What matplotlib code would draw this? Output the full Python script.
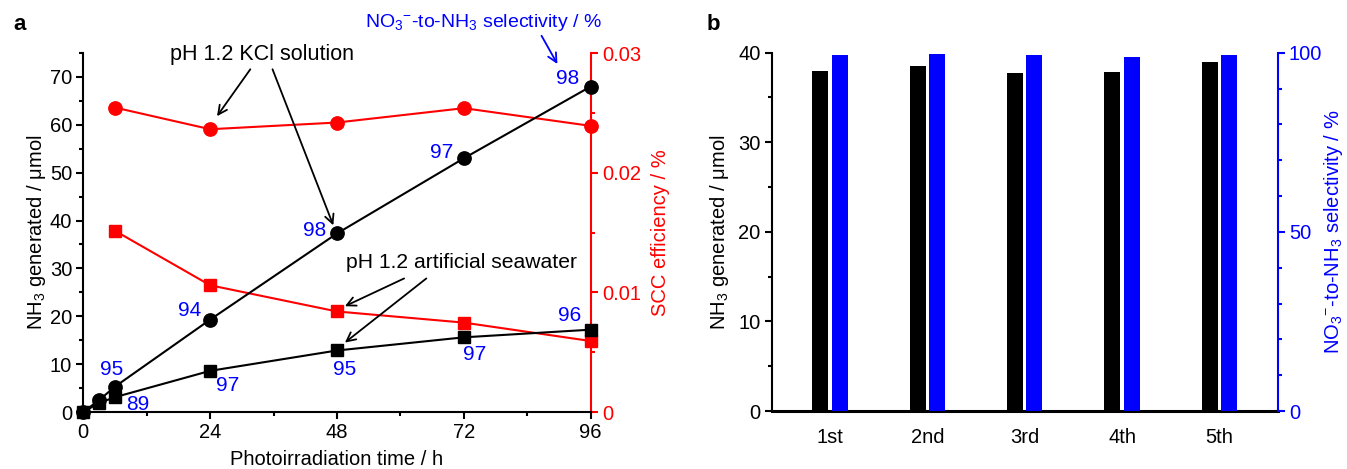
import matplotlib.pyplot as plt
from matplotlib.ticker import MultipleLocator

plt.rcParams['font.family'] = ['Liberation Sans', 'DejaVu Sans']
plt.rcParams['mathtext.fontset'] = 'custom'
plt.rcParams['mathtext.rm'] = 'Liberation Sans'
plt.rcParams['mathtext.default'] = 'regular'
plt.rcParams['font.size'] = 14.5

RED = '#ff0000'
BLUE = '#0000ff'

# panel a data
time_h = [0, 3, 6, 24, 48, 72, 96]
nh3_kcl = [0, 2.5, 5.3, 19.3, 37.3, 53.0, 68.0]
nh3_sw = [0, 1.9, 3.1, 8.6, 12.85, 15.6, 17.2]
time_scc = [6, 24, 48, 72, 96]
scc_kcl = [0.02544, 0.02363, 0.02419, 0.02539, 0.02391]
scc_sw = [0.01514, 0.01059, 0.0084, 0.00747, 0.00593]
sel_kcl = [95, 94, 98, 97, 98]   # at time_scc
sel_sw = [89, 97, 95, 97, 96]

# panel b data
cycles = ['1st', '2nd', '3rd', '4th', '5th']
nh3_cycle = [37.95, 38.55, 37.77, 37.88, 38.96]
sel_cycle = [99.3, 99.7, 99.3, 98.8, 99.3]

fig = plt.figure(figsize=(13.47, 4.69), dpi=100)
W, H = 1347, 469


def frame(l, r, t, b):
    return [l / W, 1 - b / H, (r - l) / W, (b - t) / H]


def style_ticks(ax, color='black'):
    ax.tick_params(which='major', direction='out', length=5, width=1.5, colors=color, pad=3)
    ax.tick_params(which='minor', direction='out', length=3, width=1.5, colors=color)


# ---------------- panel a ----------------
ax = fig.add_axes(frame(83.3, 590.7, 53, 412))
ax2 = ax.twinx()

ax.plot(time_h, nh3_kcl, '-o', color='black', lw=1.5, ms=9.6, clip_on=False, zorder=5)
ax.plot(time_h, nh3_sw, '-s', color='black', lw=1.5, ms=8.3, clip_on=False, zorder=5)
ax2.plot(time_scc, scc_kcl, '-o', color=RED, lw=1.5, ms=9.6, clip_on=False, zorder=4)
ax2.plot(time_scc, scc_sw, '-s', color=RED, lw=1.5, ms=8.3, clip_on=False, zorder=4)
ax.set_zorder(ax2.get_zorder() + 1)
ax.patch.set_visible(False)

ax.set_xlim(0, 96)
ax.set_ylim(0, 75)
ax2.set_ylim(0, 0.03)
ax.set_xticks([0, 24, 48, 72, 96])
ax.xaxis.set_minor_locator(MultipleLocator(12))
ax.set_yticks(range(0, 71, 10))
ax.yaxis.set_minor_locator(MultipleLocator(5))
ax2.set_yticks([0, 0.01, 0.02, 0.03])
ax2.set_yticklabels(['0', '0.01', '0.02', '0.03'])
ax2.yaxis.set_minor_locator(MultipleLocator(0.005))

for s in ['top', 'right']:
    ax.spines[s].set_visible(False)
for s in ['top', 'left', 'bottom']:
    ax2.spines[s].set_visible(False)
for s in ['left', 'bottom']:
    ax.spines[s].set_linewidth(1.5)
ax2.spines['right'].set_linewidth(1.5)
ax2.spines['right'].set_color(RED)
style_ticks(ax)
style_ticks(ax2, RED)

ax.set_xlabel('Photoirradiation time / h', labelpad=6)
ax.set_ylabel('NH$_3$ generated / μmol', labelpad=1)
ax2.set_ylabel('SCC efficiency / %', color=RED, labelpad=7)

# selectivity numbers
kcl_off = [(-3, 17), (-21, 9), (-22, 3), (-22, 6), (-23, 8)]
sw_off = [(23, -7), (17, -15), (8, -19), (11, -17), (-21, 14)]
kcl_pts = dict(zip(time_h, nh3_kcl))
sw_pts = dict(zip(time_h, nh3_sw))
for t, v, (dx, dy) in zip(time_scc, sel_kcl, kcl_off):
    ax.annotate(str(v), xy=(t, kcl_pts[t]), xytext=(dx * 0.72, dy * 0.72),
                textcoords='offset points', ha='center', va='center', color=BLUE,
                fontsize=15, annotation_clip=False)
for t, v, (dx, dy) in zip(time_scc, sel_sw, sw_off):
    ax.annotate(str(v), xy=(t, sw_pts[t]), xytext=(dx * 0.72, dy * 0.72),
                textcoords='offset points', ha='center', va='center', color=BLUE,
                fontsize=15, annotation_clip=False)

arrow = dict(arrowstyle='->', color='black', lw=1.3, mutation_scale=16, shrinkA=0, shrinkB=0)
ax.text(33.8, 74.6, 'pH 1.2 KCl solution', ha='center', va='center', fontsize=15.5)
ax.annotate('', xy=(25.3, 61.8), xytext=(31.6, 71.6), arrowprops=arrow, annotation_clip=False)
ax.annotate('', xy=(47.3, 39.0), xytext=(35.8, 71.6), arrowprops=arrow, annotation_clip=False)

ax.text(71.5, 31.2, 'pH 1.2 artificial seawater', ha='center', va='center', fontsize=15.2)
ax.annotate('', xy=(49.5, 22.1), xytext=(60.7, 27.9), arrowprops=arrow)
ax.annotate('', xy=(49.5, 14.5), xytext=(64.9, 27.9), arrowprops=arrow)

ax.text(75.7, 81.4, 'NO$_3$$^{-}$-to-NH$_3$ selectivity / %', ha='center', va='center',
        color=BLUE, fontsize=14, clip_on=False)
blue_arrow = dict(arrow, color=BLUE)
ax.annotate('', xy=(89.7, 72.7), xytext=(86.7, 78.6), arrowprops=blue_arrow,
            annotation_clip=False)

fig.text(20 / W, 1 - 25 / H, 'a', fontsize=16, fontweight='bold', ha='center', va='center')

# ---------------- panel b ----------------
bx = fig.add_axes(frame(771.7, 1277.7, 52.7, 411))
bx2 = bx.twinx()
pos = list(range(len(cycles)))
bx.bar([p - 0.1 for p in pos], nh3_cycle, width=0.165, color='black', zorder=3)
bx2.bar([p + 0.1 for p in pos], sel_cycle, width=0.165, color=BLUE, zorder=3)

bx.set_xlim(-0.6, 4.6)
bx.set_ylim(0, 40)
bx2.set_ylim(0, 100)
bx.set_xticks(pos)
bx.set_xticklabels(cycles)
bx.set_yticks(range(0, 41, 10))
bx.yaxis.set_minor_locator(MultipleLocator(5))
bx2.set_yticks([0, 50, 100])
bx2.yaxis.set_minor_locator(MultipleLocator(10))

for s in ['top', 'right']:
    bx.spines[s].set_visible(False)
for s in ['top', 'left', 'bottom']:
    bx2.spines[s].set_visible(False)
bx.spines['left'].set_linewidth(1.5)
bx.spines['bottom'].set_linewidth(2.2)
bx.spines['bottom'].set_zorder(5)
bx2.spines['right'].set_linewidth(1.5)
bx2.spines['right'].set_color(BLUE)
style_ticks(bx)
style_ticks(bx2, BLUE)
bx.tick_params(axis='x', which='both', length=0, pad=12)

bx.set_ylabel('NH$_3$ generated / μmol', labelpad=5)
bx2.set_ylabel('NO$_3$$^{-}$-to-NH$_3$ selectivity / %', color=BLUE, labelpad=0)
bx2.yaxis.set_label_coords(1.088, 0.5)

fig.text(713 / W, 1 - 25 / H, 'b', fontsize=16, fontweight='bold', ha='center', va='center')

plt.savefig('out.png', dpi=100)
